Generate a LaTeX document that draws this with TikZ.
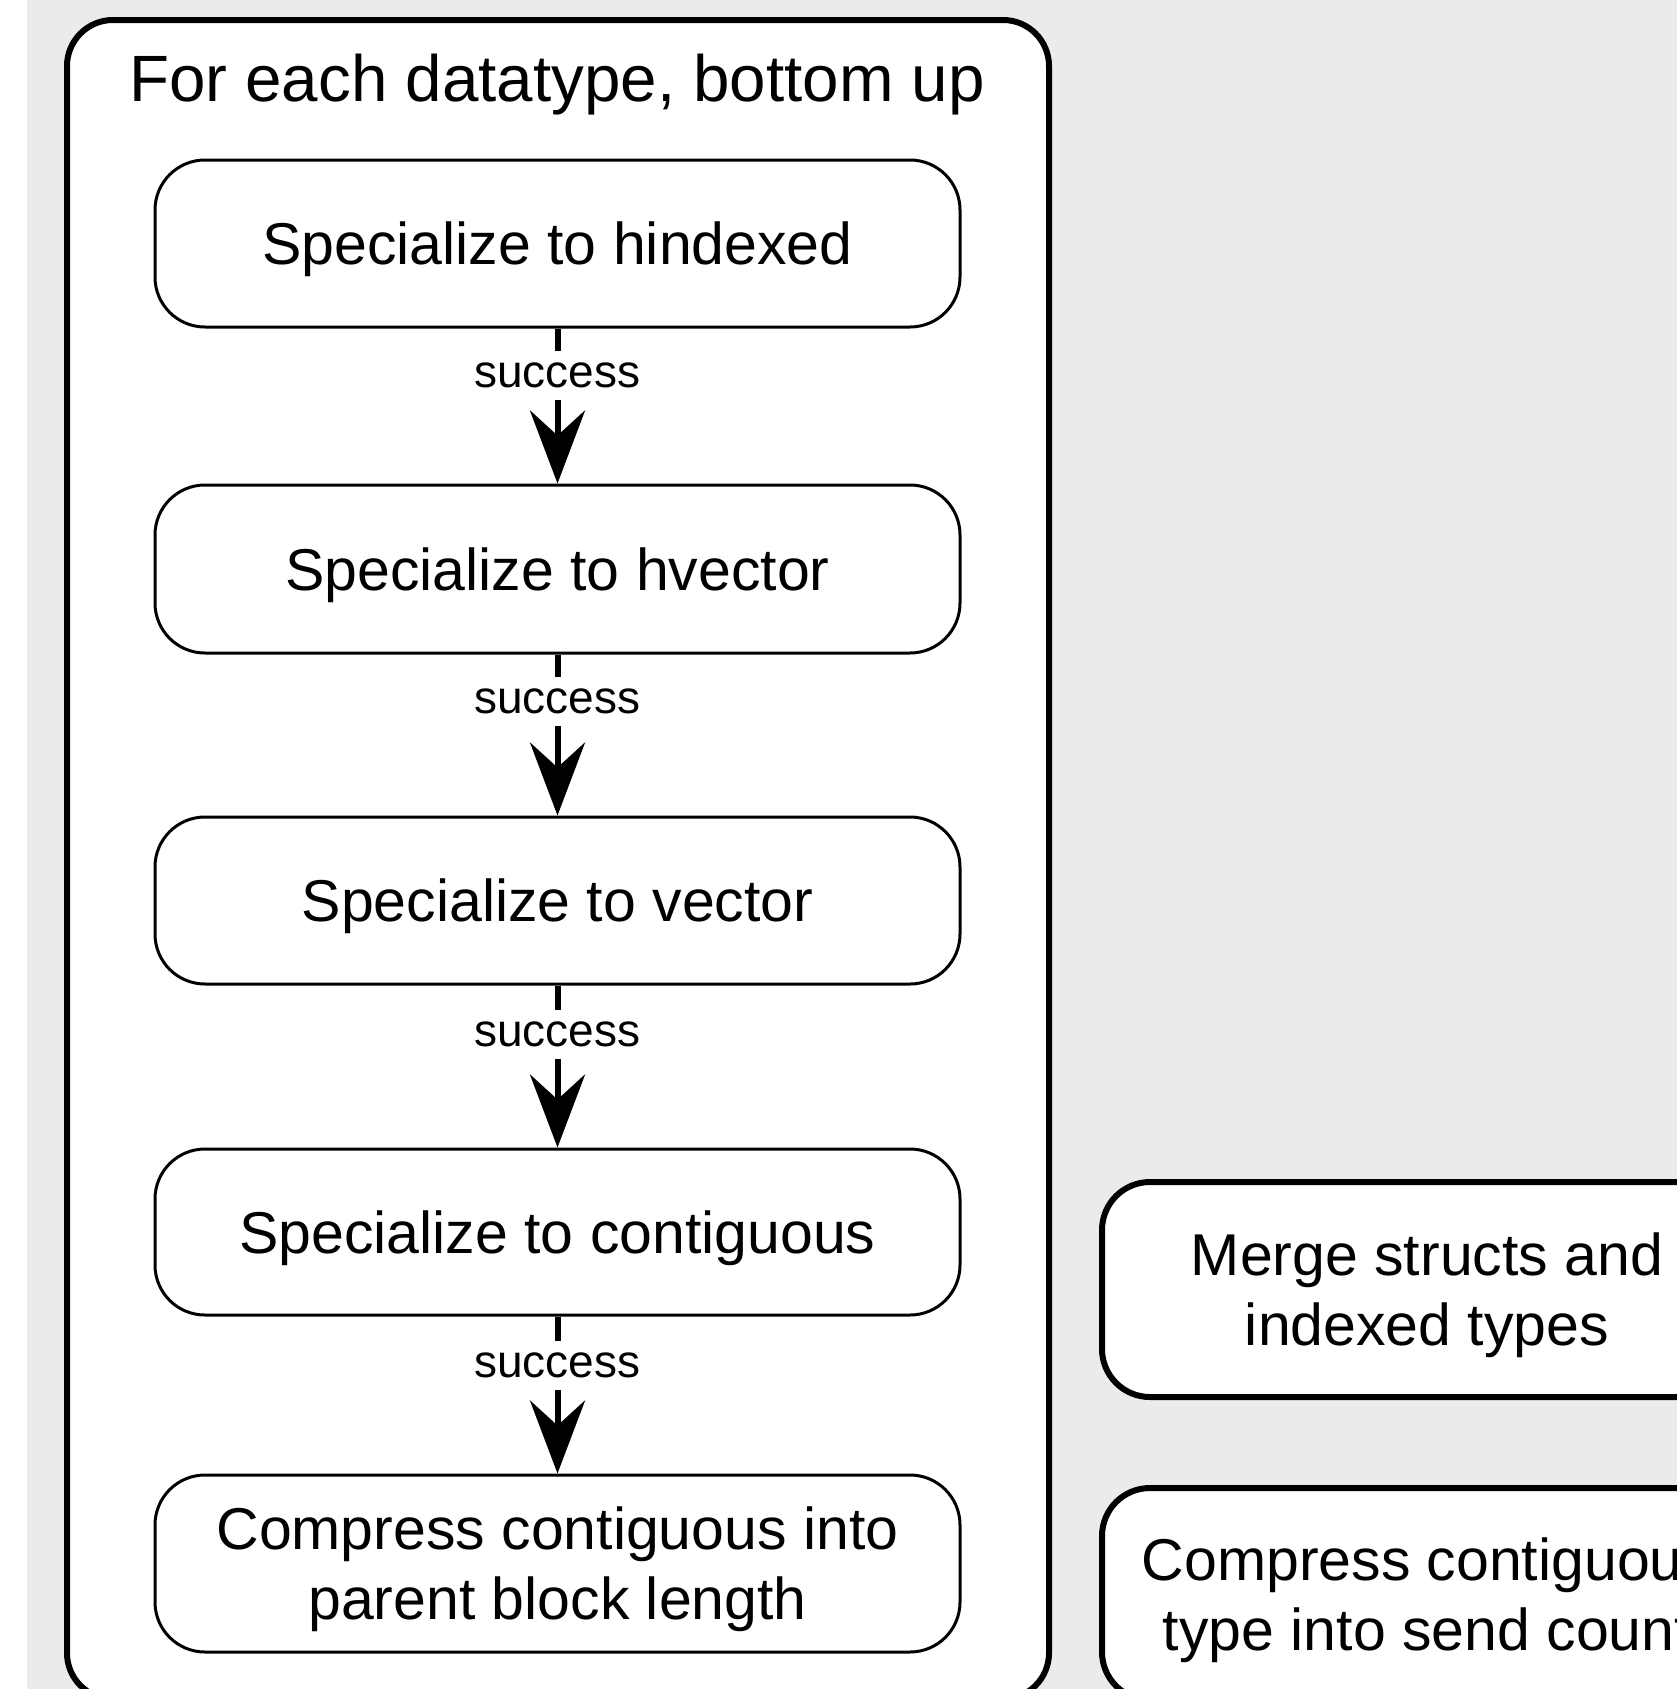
\documentclass[tikz,border=0pt]{standalone}
\usepackage{fontspec}
\setmainfont{Liberation Sans}
\usetikzlibrary{arrows.meta}
\definecolor{canvas}{RGB}{235,235,235}
\begin{document}
\begin{tikzpicture}[x=1pt,y=-1pt,
  loop box/.style={draw, line width=6pt, rounded corners=46pt, fill=white, inner sep=0pt},
  box text/.style={yshift=-6pt, inner sep=0pt, align=center,
    font=\fontsize{59}{70}\selectfont},
  step box/.style={draw, line width=3pt, rounded corners=50pt, fill=white,
    minimum width=805pt, inner sep=0pt},
  side box/.style={draw, line width=6pt, rounded corners=48pt, fill=white,
    minimum width=650pt, inner sep=0pt},
  title text/.style={inner sep=0pt, font=\fontsize{65.5}{78}\selectfont},
  flow/.style={line width=6pt, -{Stealth[length=73pt, width=55pt, inset=25pt]}},
  tag/.style={fill=white, inner sep=0pt, minimum height=49pt,
    font=\fontsize{46}{55}\selectfont}]
% page frame and canvas
\useasboundingbox (0,0) rectangle (1677,1689);
\clip (0,0) rectangle (1677,1689);
\fill[white] (0,0) rectangle (27,1689);
\fill[canvas] (27,0) rectangle (1677,1689);

% per-datatype loop container
\node[loop box, minimum width=982pt, minimum height=1679pt] (loop) at (558,859.5) {};
\node[title text] (title) at (557,85) {For each datatype, bottom up};

% specialization steps
\node[step box, minimum height=167pt, label={[box text]center:Specialize to hindexed}] (b1) at (557.5,243.5) {};
\node[step box, minimum height=168pt, label={[box text]center:Specialize to hvector}] (b2) at (557.5,569) {};
\node[step box, minimum height=167pt, label={[box text]center:Specialize to vector}] (b3) at (557.5,900.5) {};
\node[step box, minimum height=166pt, label={[box text]center:Specialize to contiguous}] (b4) at (557.5,1232) {};
\node[step box, minimum height=177pt, label={[box text]center:Compress contiguous into\\parent block length}] (b5) at (557.5,1563.5) {};

\draw[flow] (b1.south) -- node[tag, pos=0.30] (s1) {success} (b2.north);
\draw[flow] (b2.south) -- node[tag, pos=0.29] (s2) {success} (b3.north);
\draw[flow] (b3.south) -- node[tag, pos=0.30] (s3) {success} (b4.north);
\draw[flow] (b4.south) -- node[tag, pos=0.31] (s4) {success} (b5.north);

% later passes
\node[side box, minimum height=215pt, label={[box text]center:Merge structs and\\indexed types}] (merge) at (1427,1289.5) {};
\node[side box, minimum height=212pt, label={[box text]center:Compress contiguous\\type into send count}] (count) at (1427,1594) {};
\end{tikzpicture}
\end{document}
